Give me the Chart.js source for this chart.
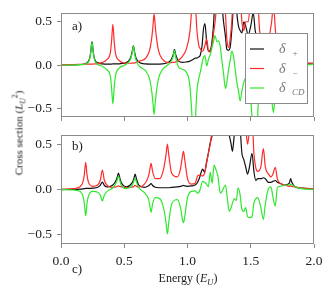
<!DOCTYPE html>
<html>
<head>
<meta charset="utf-8">
<script src="https://cdn.jsdelivr.net/npm/chart.js@4.4.0/dist/chart.umd.min.js"></script>
<style>
  body { margin: 0; background: #fff; width: 334px; height: 289px; position: relative; overflow: hidden;
         font-family: "Liberation Serif", "Times New Roman", serif; }
  canvas { position: absolute; left: 0; }
  #chartA { top: 0; }
  #chartB { top: 122px; }
  .txt { position: absolute; color: #222; white-space: nowrap; line-height: 1; }
  #ylab { left: 19px; top: 133px; font-size: 11px; transform: translate(-50%, -50%) rotate(-90deg); }
  #xlab { left: 188px; top: 272px; font-size: 12px; transform: translateX(-50%); }
  sub, sup { font-size: 70%; line-height: 0; }
</style>
</head>
<body>
<canvas id="chartA" width="334" height="130"></canvas>
<canvas id="chartB" width="334" height="167"></canvas>
<div class="txt" style="left:72px;top:19px;font-size:13px;">a)</div>
<div class="txt" style="left:72px;top:139px;font-size:13px;">b)</div>
<div class="txt" style="left:72px;top:262px;font-size:13px;">c)</div>
<div class="txt" id="ylab">Cross section (<i>L</i><sub><i>U</i></sub><sup>2</sup>)</div>
<div class="txt" id="xlab">Energy (<i>E</i><sub><i>U</i></sub>)</div>
<script>
// panel a)
const energyA = [0.00,0.10,0.16,0.20,0.225,0.235,0.245,0.255,0.265,0.29,
  0.33,0.36,0.39,0.40,0.41,0.42,0.43,0.46,0.50,0.53,
  0.552,0.562,0.572,0.582,0.592,0.62,0.67,0.70,0.716,0.726,
  0.736,0.746,0.756,0.772,0.80,0.84,0.87,0.887,0.897,0.907,
  0.93,0.96,0.99,1.02,1.04,1.05,1.06,1.074,1.09,1.10,
  1.115,1.126,1.138,1.152,1.166,1.18,1.192,1.205,1.218,1.232,
  1.245,1.258,1.271,1.285,1.30,1.311,1.325,1.337,1.35,1.364,
  1.377,1.39,1.403,1.416,1.43,1.445,1.46,1.48,1.50,1.52,
  1.535,1.55,1.57,1.60,1.64,1.665,1.68,1.695,1.72,1.78,
  1.85,1.95,2.00];
const plusA = [0.000,0.002,0.006,0.020,0.070,0.150,0.270,0.150,0.070,0.025,
  0.012,0.010,0.010,0.011,0.012,0.012,0.012,0.014,0.020,0.040,
  0.090,0.150,0.220,0.150,0.085,0.030,0.012,0.010,0.010,0.010,
  0.010,0.010,0.010,0.011,0.012,0.025,0.060,0.120,0.180,0.120,
  0.045,0.030,0.035,0.045,0.060,0.070,0.080,0.080,0.095,0.110,
  0.220,0.410,0.480,0.260,0.160,0.170,0.250,0.450,0.800,0.900,
  0.850,0.800,0.700,0.500,0.330,0.180,0.170,0.200,0.400,0.700,
  0.900,0.600,0.450,0.400,0.370,0.500,0.450,0.350,0.450,0.600,
  0.400,0.300,0.200,0.150,0.100,0.100,0.100,0.100,0.080,0.050,
  0.030,0.020,0.018];
const minusA = [0.004,0.006,0.008,0.009,0.010,0.010,0.010,0.011,0.012,0.016,
  0.030,0.060,0.140,0.280,0.470,0.280,0.140,0.050,0.025,0.020,
  0.020,0.021,0.022,0.024,0.027,0.045,0.080,0.170,0.300,0.430,
  0.590,0.430,0.300,0.160,0.070,0.030,0.028,0.030,0.032,0.036,
  0.055,0.100,0.180,0.400,0.800,1.000,0.800,0.410,0.220,0.190,
  0.160,0.170,0.230,0.300,0.160,0.150,0.220,0.350,0.500,0.700,
  0.800,0.900,1.000,0.900,0.600,0.300,0.200,0.300,0.500,0.900,
  1.000,0.900,0.800,0.800,0.500,0.400,0.500,0.500,0.800,1.000,
  1.200,1.000,0.400,0.250,0.300,0.500,0.700,0.400,0.150,0.060,
  0.030,0.020,0.018];
const cdA = [0.000,-0.002,0.004,0.015,0.060,0.140,0.265,0.140,0.058,0.008,
  -0.018,-0.050,-0.130,-0.270,-0.450,-0.270,-0.130,-0.036,-0.005,0.025,
  0.075,0.135,0.215,0.130,0.060,-0.015,-0.068,-0.160,-0.290,-0.420,
  -0.570,-0.420,-0.290,-0.150,-0.058,-0.005,0.040,0.100,0.170,0.085,
  -0.025,-0.050,-0.080,-0.250,-0.700,-0.900,-0.700,-0.310,-0.150,-0.090,
  0.020,0.086,0.110,-0.010,0.070,0.120,0.190,0.270,0.340,0.270,
  0.280,0.220,0.060,-0.100,-0.270,-0.200,-0.050,0.050,0.160,0.100,
  -0.050,-0.200,-0.300,-0.415,-0.300,-0.200,-0.150,-0.200,-0.400,-0.800,
  -0.900,-0.700,-0.200,-0.100,-0.200,-0.400,-0.550,-0.300,-0.070,-0.010,
  0.000,0.005,0.010];

// panel b)
const energyB = [0.0,0.1,0.15,0.175,0.185,0.195,0.205,0.215,0.25,0.29,
  0.31,0.327,0.343,0.37,0.41,0.435,0.445,0.454,0.463,0.475,
  0.52,0.56,0.576,0.586,0.596,0.615,0.66,0.69,0.70,0.712,
  0.724,0.745,0.78,0.81,0.83,0.841,0.852,0.875,0.92,0.945,
  0.958,0.968,0.978,1.0,1.03,1.06,1.08,1.095,1.12,1.135,
  1.15,1.165,1.18,1.195,1.21,1.225,1.24,1.26,1.28,1.30,
  1.315,1.33,1.345,1.355,1.37,1.385,1.40,1.415,1.43,1.445,
  1.46,1.475,1.49,1.51,1.525,1.54,1.555,1.58,1.60,1.615,
  1.64,1.66,1.675,1.694,1.71,1.73,1.77,1.805,1.815,1.825,
  1.85,1.9,2.0];
const plusB = [0.0,0.002,0.005,0.008,0.01,0.012,0.012,0.012,0.015,0.025,
  0.045,0.083,0.045,0.03,0.05,0.1,0.14,0.18,0.14,0.08,
  0.03,0.07,0.12,0.17,0.12,0.05,0.025,0.04,0.05,0.065,
  0.045,0.025,0.02,0.02,0.02,0.02,0.02,0.025,0.03,0.035,
  0.04,0.045,0.04,0.035,0.04,0.05,0.08,0.13,0.225,0.19,
  0.30,0.40,0.52,0.6,0.8,0.9,0.8,0.8,0.7,0.8,
  0.7,0.6,0.5,0.42,0.6,0.7,0.8,0.7,0.4,0.33,
  0.25,0.17,0.25,0.40,0.2,0.1,0.12,0.12,0.13,0.12,
  0.08,0.08,0.09,0.1,0.08,0.07,0.05,0.07,0.12,0.08,
  0.03,0.015,0.01];
const minusB = [0.005,0.01,0.03,0.09,0.17,0.30,0.17,0.09,0.035,0.05,
  0.1,0.215,0.1,0.04,0.025,0.03,0.035,0.04,0.035,0.03,
  0.02,0.025,0.035,0.045,0.035,0.03,0.06,0.14,0.2,0.29,
  0.2,0.12,0.12,0.22,0.38,0.50,0.38,0.18,0.14,0.23,
  0.35,0.42,0.33,0.12,0.06,0.07,0.15,0.16,0.15,0.18,
  0.28,0.4,0.5,0.65,0.7,0.8,0.9,0.85,0.7,0.75,
  0.8,0.9,0.8,0.6,0.7,0.75,0.8,0.9,0.7,0.6,
  0.65,0.5,0.65,0.8,0.4,0.24,0.2,0.25,0.45,0.25,
  0.17,0.14,0.17,0.245,0.12,0.07,0.05,0.035,0.04,0.035,
  0.03,0.015,0.01];
const cdB = [0.0,-0.005,-0.02,-0.08,-0.16,-0.29,-0.16,-0.08,-0.02,-0.03,
  -0.06,-0.125,-0.06,-0.015,0.02,0.07,0.11,0.15,0.11,0.05,
  0.01,0.04,0.09,0.125,0.085,0.02,-0.035,-0.1,-0.16,-0.25,
  -0.16,-0.09,-0.1,-0.2,-0.36,-0.49,-0.36,-0.16,-0.11,-0.2,
  -0.31,-0.365,-0.3,-0.09,-0.02,-0.015,-0.04,-0.02,0.09,0.08,
  0.06,0.03,0.19,0.07,0.27,0.22,0.15,-0.04,0.0,0.05,
  -0.1,-0.24,-0.2,-0.15,-0.1,-0.12,0.02,-0.05,-0.22,-0.24,
  -0.2,-0.3,-0.31,-0.3,-0.15,-0.1,-0.09,-0.2,-0.33,-0.16,
  0.01,0.03,-0.08,-0.18,0.02,0.035,0.05,0.05,0.06,0.055,
  0.03,0.01,0.0];

const xTicks = [0, 0.5, 1, 1.5, 2];
const xTickLabels = ['0.0', '0.5', '1.0', '1.5', '2.0'];
const yTicks = [-0.5, 0, 0.5];
const yTickLabels = ['\u22120.5', '0.0', '0.5'];
const legendSubs = ['+', '\u2212', 'CD'];
const seriesColors = ['#111111', '#ff2a2a', '#2ee82e']; // plus, minus, CD

const FONT = '"Liberation Serif", "Times New Roman", serif';
const AXIS_GRAY = '#8a8a8a';

const framePlugin = {
  id: 'frame',
  afterDraw(chart) {
    const { ctx, chartArea: a } = chart;
    ctx.save();
    ctx.strokeStyle = AXIS_GRAY;
    ctx.lineWidth = 1;
    ctx.strokeRect(Math.round(a.left) + 0.5, Math.round(a.top) + 0.5,
                   Math.round(a.width) - 1, Math.round(a.height) - 1);
    ctx.restore();
  }
};

// box legend inside panel a, over the curves
const legendPlugin = {
  id: 'sigmaLegend',
  afterDatasetsDraw(chart) {
    const ctx = chart.ctx;
    const rows = [49, 68.5, 88];
    ctx.save();
    ctx.fillStyle = '#fff';
    ctx.fillRect(245, 33, 63, 71);
    ctx.strokeStyle = AXIS_GRAY;
    ctx.lineWidth = 1;
    ctx.strokeRect(245.5, 33.5, 62, 70);
    legendSubs.forEach((sub, i) => {
      const y = rows[i];
      ctx.strokeStyle = seriesColors[i];
      ctx.lineWidth = 1.2;
      ctx.beginPath();
      ctx.moveTo(250, y);
      ctx.lineTo(264, y);
      ctx.stroke();
      ctx.fillStyle = '#777';
      ctx.textBaseline = 'alphabetic';
      ctx.font = 'italic 14px ' + FONT;
      ctx.fillText('\u03b4', 279, y + 4);
      ctx.font = 'italic 9px ' + FONT;
      ctx.fillText(sub, 292, y + 7);
    });
    ctx.restore();
  }
};

function series(xs, ys, color) {
  return {
    data: xs.map((x, i) => ({ x: x, y: ys[i] })),
    borderColor: color,
    borderWidth: 1.2,
    pointRadius: 0,
    fill: false,
    cubicInterpolationMode: 'monotone'
  };
}

function panel(id, xs, plus, minus, cd, showX, xHeight, plugins) {
  new Chart(document.getElementById(id), {
    type: 'line',
    data: {
      // CD drawn on top, then minus, then plus
      datasets: [
        series(xs, cd, seriesColors[2]),
        series(xs, minus, seriesColors[1]),
        series(xs, plus, seriesColors[0])
      ]
    },
    options: {
      responsive: false,
      animation: false,
      layout: { padding: { top: 10, right: 20, left: 0, bottom: 0 } },
      plugins: { legend: { display: false }, tooltip: { enabled: false } },
      scales: {
        x: {
          type: 'linear', min: 0, max: 2,
          afterBuildTicks: s => { s.ticks = xTicks.map(v => ({ value: v })); },
          afterFit: s => { s.height = xHeight; },
          grid: { drawOnChartArea: false, drawTicks: true, tickLength: 4, color: AXIS_GRAY },
          border: { display: false },
          ticks: {
            autoSkip: false, maxRotation: 0, padding: 5, color: '#222',
            font: { family: FONT, size: 13.5 },
            callback: (v, i) => showX ? xTickLabels[i] : ''
          }
        },
        y: {
          min: -0.6, max: 0.6,
          afterBuildTicks: s => { s.ticks = yTicks.map(v => ({ value: v })); },
          afterFit: s => { s.width = 61; },
          grid: { drawOnChartArea: false, drawTicks: true, tickLength: 4, color: AXIS_GRAY },
          border: { display: false },
          ticks: {
            autoSkip: false, padding: 5, color: '#222',
            font: { family: FONT, size: 13.5 },
            callback: (v, i) => yTickLabels[i]
          }
        }
      }
    },
    plugins: plugins
  });
}

panel('chartA', energyA, plusA, minusA, cdA, false, 8, [framePlugin, legendPlugin]);
panel('chartB', energyB, plusB, minusB, cdB, true, 45, [framePlugin]);
</script>
</body>
</html>
